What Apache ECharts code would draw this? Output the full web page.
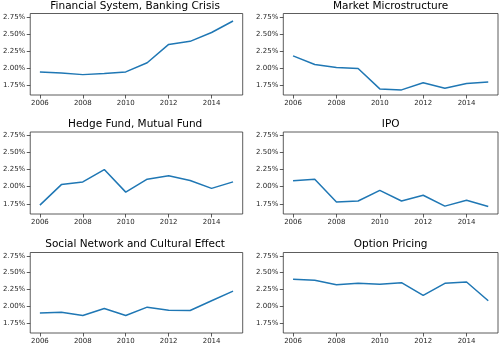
<!DOCTYPE html>
<html><head><meta charset="utf-8">
<script src="https://cdn.jsdelivr.net/npm/echarts@6/dist/echarts.min.js"></script>
<style>html,body{margin:0;padding:0;background:#fff}#c{width:500px;height:345px}</style>
</head><body><div id="c"></div>
<script>
const years = [2006, 2007, 2008, 2009, 2010, 2011, 2012, 2013, 2014, 2015];
const titles = ["Financial System, Banking Crisis", "Market Microstructure", "Hedge Fund, Mutual Fund", "IPO", "Social Network and Cultural Effect", "Option Pricing"];
const financial = [1.94, 1.925, 1.90, 1.915, 1.94, 2.075, 2.345, 2.39, 2.52, 2.69];
const microstructure = [2.176, 2.05, 2.005, 1.99, 1.69, 1.675, 1.78, 1.70, 1.77, 1.79];
const hedge = [1.73, 2.03, 2.07, 2.25, 1.92, 2.11, 2.16, 2.09, 1.975, 2.07];
const ipo = [2.085, 2.11, 1.775, 1.79, 1.945, 1.79, 1.875, 1.715, 1.80, 1.71];
const social = [1.897, 1.91, 1.86, 1.965, 1.86, 1.985, 1.94, 1.935, 2.08, 2.225];
const option = [2.40, 2.385, 2.32, 2.34, 2.325, 2.35, 2.16, 2.34, 2.36, 2.08];
const yTicks = [1.75, 2.00, 2.25, 2.50, 2.75];
const xTicks = [2006, 2008, 2010, 2012, 2014];
const seriesValues = [financial, microstructure, hedge, ipo, social, option];

const chart = echarts.init(document.getElementById('c'), null, {renderer: 'canvas'});
const font = 'DejaVu Sans';
const textColor = '#262626';
const colsX = [{left: 27.5, width: 215.2}, {left: 283.3, width: 214.7}];
const rowsY = [{top: 13.5, height: 81.5}, {top: 132, height: 82}, {top: 252.5, height: 80.5}];
const titleTops = [0.5, 119, 239];

const grids = [], xAxes = [], yAxes = [], series = [], titleOpts = [];
for (let i = 0; i < 6; i++) {
  const c = i % 2, r = Math.floor(i / 2);
  grids.push({left: colsX[c].left, width: colsX[c].width, top: rowsY[r].top, height: rowsY[r].height,
    show: true, borderColor: '#333', borderWidth: 0.8, backgroundColor: 'transparent', containLabel: false});
  xAxes.push({type: 'value', gridIndex: i, min: 2005.55, max: 2015.45,
    axisLine: {show: false}, splitLine: {show: false},
    axisTick: {show: true, inside: false, length: 3.5, lineStyle: {color: '#333', width: 0.8}, customValues: xTicks},
    axisLabel: {customValues: xTicks, fontFamily: font, fontSize: 7, color: textColor, margin: 4.5,
      formatter: v => String(Math.round(v))}});
  yAxes.push({type: 'value', gridIndex: i, min: 1.6, max: 2.8,
    axisLine: {show: false}, splitLine: {show: false},
    axisTick: {show: true, inside: false, length: 3.5, lineStyle: {color: '#333', width: 0.8}, customValues: yTicks},
    axisLabel: {customValues: yTicks, fontFamily: font, fontSize: 7, color: textColor, margin: 5,
      formatter: v => v.toFixed(2) + '%'}});
  series.push({type: 'line', xAxisIndex: i, yAxisIndex: i, showSymbol: false, symbol: 'none',
    lineStyle: {color: '#1f77b4', width: 1.5}, itemStyle: {color: '#1f77b4'},
    data: years.map((y, k) => [y, seriesValues[i][k]]), animation: false});
  titleOpts.push({text: titles[i], left: colsX[c].left + colsX[c].width / 2, textAlign: 'center',
    top: titleTops[r], padding: 0,
    textStyle: {fontFamily: font, fontSize: 10.5, fontWeight: 'normal', color: '#000'}});
}

chart.setOption({animation: false, backgroundColor: '#fff', title: titleOpts, grid: grids,
  xAxis: xAxes, yAxis: yAxes, series: series});
</script></body></html>
